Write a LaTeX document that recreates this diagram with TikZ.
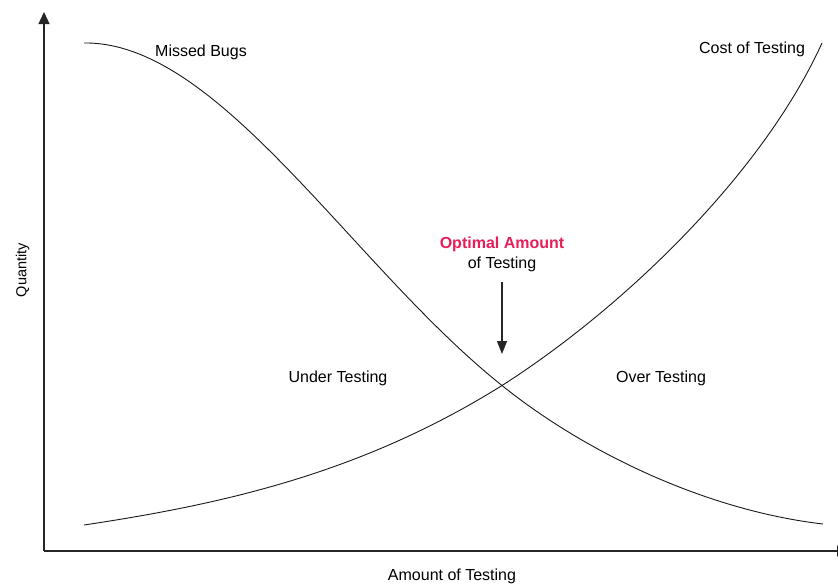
\documentclass[tikz,border=0pt]{standalone}
\usepackage{fontspec}
\setmainfont{Liberation Sans}
\usetikzlibrary{arrows.meta}
\definecolor{optpink}{RGB}{233,30,88}
\begin{document}
\begin{tikzpicture}[x=1pt,y=-1pt,
  lbl/.style={font=\fontsize{16}{19}\selectfont, inner sep=0pt, anchor=base},
  axis/.style={line width=1.2pt, draw=black!85, -{Triangle[width=11pt,length=12pt]}},
  curve/.style={line width=0.9pt, draw=black!90}]
\useasboundingbox (0,0) rectangle (838,584);
\fill[white] (0,0) rectangle (838,584);
\coordinate (O) at (44,551);
\coordinate (ytop) at (44,12);
\coordinate (xend) at (849,551);
\draw[axis] (O) -- (ytop);
\draw[axis] (O) -- (xend);
% Missed Bugs curve
\coordinate (mb0) at (84,43);
\coordinate (cross) at (502,385.5);
\coordinate (mb1) at (823,524);
\draw[curve] (mb0) .. controls (219,41) and (352,266) .. (cross)
  .. controls (582,450) and (703,510) .. (mb1);
% Cost of Testing curve
\coordinate (ct0) at (84,525);
\coordinate (ct1) at (822,43);
\draw[curve] (ct0) .. controls (224,504) and (362,473) .. (cross)
  .. controls (622,309) and (762,175) .. (ct1);
\node[lbl] (mb) at (201,56) {Missed Bugs};
\node[lbl] (ct) at (752,53) {Cost of Testing};
\node[lbl, text=optpink, font=\fontsize{16}{19}\selectfont\bfseries] (opt) at (502,248) {Optimal Amount};
\node[lbl] (oft) at (502,268) {of Testing};
\node[lbl] (ut) at (338,382.5) {Under Testing};
\node[lbl] (ot) at (661,382.5) {Over Testing};
\node[lbl] (xl) at (452,580) {Amount of Testing};
\node[lbl, font=\fontsize{14.5}{17}\selectfont, rotate=90] (yl) at (26.5,270) {Quantity};
\coordinate (arrS) at (502,282);
\coordinate (arrE) at (502,354);
\draw[line width=1.1pt, draw=black!85, -{Triangle[width=10pt,length=13pt]}] (arrS) -- (arrE);
\end{tikzpicture}
\end{document}
